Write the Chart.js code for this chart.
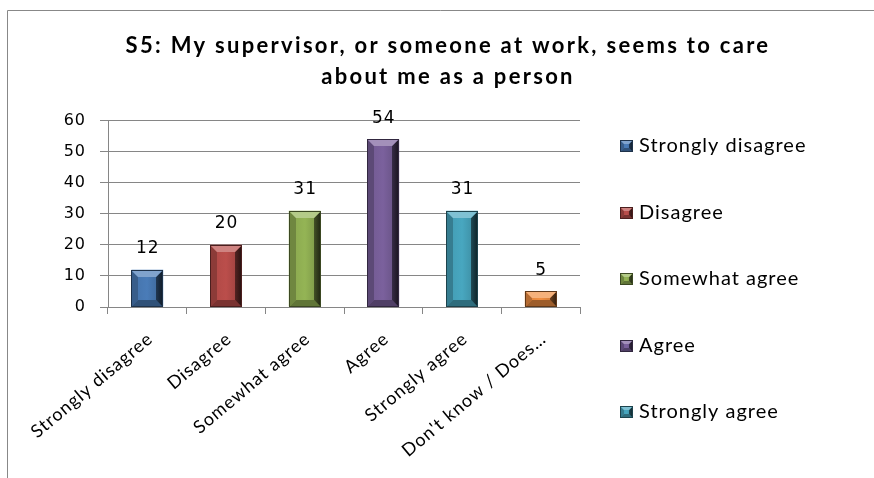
<!DOCTYPE html>
<html>
<head>
<meta charset="utf-8">
<script src="https://cdn.jsdelivr.net/npm/chart.js@4.4.1/dist/chart.umd.min.js"></script>
<style>
  html, body { margin: 0; padding: 0; background: #fff; overflow: hidden; }
  #wrap { position: relative; width: 874px; height: 478px; }
</style>
</head>
<body>
<div id="wrap"><canvas id="chart"></canvas></div>
<script>
const categories = ["Strongly disagree", "Disagree", "Somewhat agree", "Agree", "Strongly agree", "Don't know / Does not apply"];
const counts = [12, 20, 31, 54, 31, 5];
const yTicks = [0, 10, 20, 30, 40, 50, 60];
const barColors = ["#4a7cb8", "#bb4e4b", "#94b455", "#7b619d", "#48a7c0", "#f18f42"];
const legendShown = 5;

function shade(hex, amt) {
    const n = parseInt(hex.slice(1), 16);
    let r = n >> 16, g = (n >> 8) & 255, b = n & 255;
    const f = (c) => amt < 0 ? Math.round(c * (1 + amt)) : Math.round(c + (255 - c) * amt);
    return `rgb(${f(r)}, ${f(g)}, ${f(b)})`;
}

function bevelRect(ctx, L, T, R, B, color, b) {
    b = Math.min(b, (B - T) / 2, (R - L) / 2);
    const poly = (pts, fill) => {
        ctx.beginPath();
        ctx.moveTo(pts[0][0], pts[0][1]);
        pts.slice(1).forEach((p) => ctx.lineTo(p[0], p[1]));
        ctx.closePath();
        ctx.fillStyle = fill;
        ctx.fill();
    };
    const face = ctx.createLinearGradient(L, 0, R, 0);
    face.addColorStop(0, shade(color, -0.08));
    face.addColorStop(0.5, color);
    face.addColorStop(1, shade(color, -0.2));
    poly([[L, T], [R, T], [R, B], [L, B]], face);
    poly([[L, T], [L + b, T + b], [L + b, B - b], [L, B]], shade(color, -0.25));
    poly([[L, B], [L + b, B - b], [R - b, B - b], [R, B]], shade(color, -0.35));
    const right = ctx.createLinearGradient(R - b, 0, R, 0);
    right.addColorStop(0, shade(color, -0.55));
    right.addColorStop(1, shade(color, -0.8));
    poly([[R, T], [R, B], [R - b, B - b], [R - b, T + b]], right);
    poly([[L, T], [R, T], [R - b, T + b], [L + b, T + b]], shade(color, 0.3));
    ctx.strokeStyle = shade(color, -0.6);
    ctx.lineWidth = 1;
    ctx.strokeRect(L + 0.5, T + 0.5, R - L - 1, B - T - 1);
}

const barDeco = {
    id: "barDeco",
    beforeDraw(chart) {
        const ctx = chart.ctx;
        ctx.letterSpacing = "1px";
        ctx.save();
        ctx.strokeStyle = "#888";
        ctx.lineWidth = 1;
        ctx.beginPath();
        ctx.moveTo(7.5, chart.height);
        ctx.lineTo(7.5, 10.5);
        ctx.lineTo(chart.width, 10.5);
        ctx.stroke();
        ctx.restore();
    },
    afterDatasetsDraw(chart) {
        const ctx = chart.ctx;
        const meta = chart.getDatasetMeta(0);
        ctx.save();
        meta.data.forEach((bar, i) => {
            const half = bar.width / 2;
            bevelRect(ctx, Math.round(bar.x - half), Math.round(bar.y), Math.round(bar.x + half), Math.round(bar.base), barColors[i], 7);
        });
        ctx.fillStyle = "#000";
        ctx.font = "17px 'DejaVu Sans'";
        ctx.letterSpacing = "1px";
        ctx.textAlign = "center";
        ctx.textBaseline = "middle";
        meta.data.forEach((bar, i) => {
            ctx.fillText(String(counts[i]), bar.x + 0.5, bar.y - 21);
        });
        ctx.restore();
    },
    afterDraw(chart) {
        const ctx = chart.ctx;
        ctx.save();
        ctx.font = "20px Lato";
        ctx.letterSpacing = "1px";
        ctx.textBaseline = "middle";
        ctx.textAlign = "left";
        for (let i = 0; i < legendShown; i++) {
            const y = 146 + i * 66.5;
            bevelRect(ctx, 620, Math.round(y - 6), 633, Math.round(y + 6), barColors[i], 4);
            ctx.fillStyle = "#000";
            ctx.fillText(categories[i], 639, y);
        }
        ctx.restore();
    }
};

const chart = new Chart(document.getElementById("chart"), {
    type: "bar",
    data: {
        labels: categories,
        datasets: [{
            data: counts,
            backgroundColor: barColors,
            borderWidth: 0,
            categoryPercentage: 1,
            barPercentage: 0.403
        }]
    },
    options: {
        responsive: true,
        maintainAspectRatio: false,
        animation: false,
        layout: { padding: { left: 22, right: 0, top: 0, bottom: 0 } },
        plugins: {
            legend: { display: false },
            tooltip: { enabled: false },
            title: {
                display: true,
                text: ["S5: My supervisor, or someone at work, seems to care", "about me as a person"],
                color: "#000",
                font: { family: "Lato", size: 22, weight: "bold", lineHeight: 1.4 },
                padding: { top: 31, bottom: 28 }
            }
        },
        scales: {
            x: {
                grid: { display: true, drawOnChartArea: false, offset: true, color: "#868686", tickLength: 7 },
                border: { color: "#868686" },
                ticks: {
                    color: "#000",
                    font: { family: "Lato", size: 18 },
                    maxRotation: 40,
                    minRotation: 40,
                    padding: 14,
                    labelOffset: 3,
                    autoSkip: false,
                    callback: function (v, i) {
                        const s = categories[i];
                        return s.length > 18 ? s.slice(0, 17) + "…" : s;
                    }
                },
                afterFit: (s) => { s.height = 171; }
            },
            y: {
                min: 0,
                max: 60,
                afterBuildTicks: (s) => { s.ticks = yTicks.map((v) => ({ value: v })); },
                grid: { color: "#868686", tickLength: 8 },
                border: { color: "#868686" },
                ticks: {
                    color: "#000",
                    font: { family: "DejaVu Sans", size: 16 },
                    padding: 14
                },
                afterFit: (s) => { s.width = 86; }
            },
            legendSpace: {
                type: "linear",
                position: "right",
                display: true,
                grid: { display: false },
                border: { display: false },
                ticks: { display: false },
                afterFit: (s) => { s.width = 294; }
            }
        }
    },
    plugins: [barDeco]
});

// the title in the reference is set with wider letter spacing
const drawTitle = chart.titleBlock.draw.bind(chart.titleBlock);
chart.titleBlock.draw = function (area) {
    chart.ctx.save();
    chart.ctx.letterSpacing = "2.3px";
    drawTitle(area);
    chart.ctx.restore();
};
chart.draw();
</script>
</body>
</html>
